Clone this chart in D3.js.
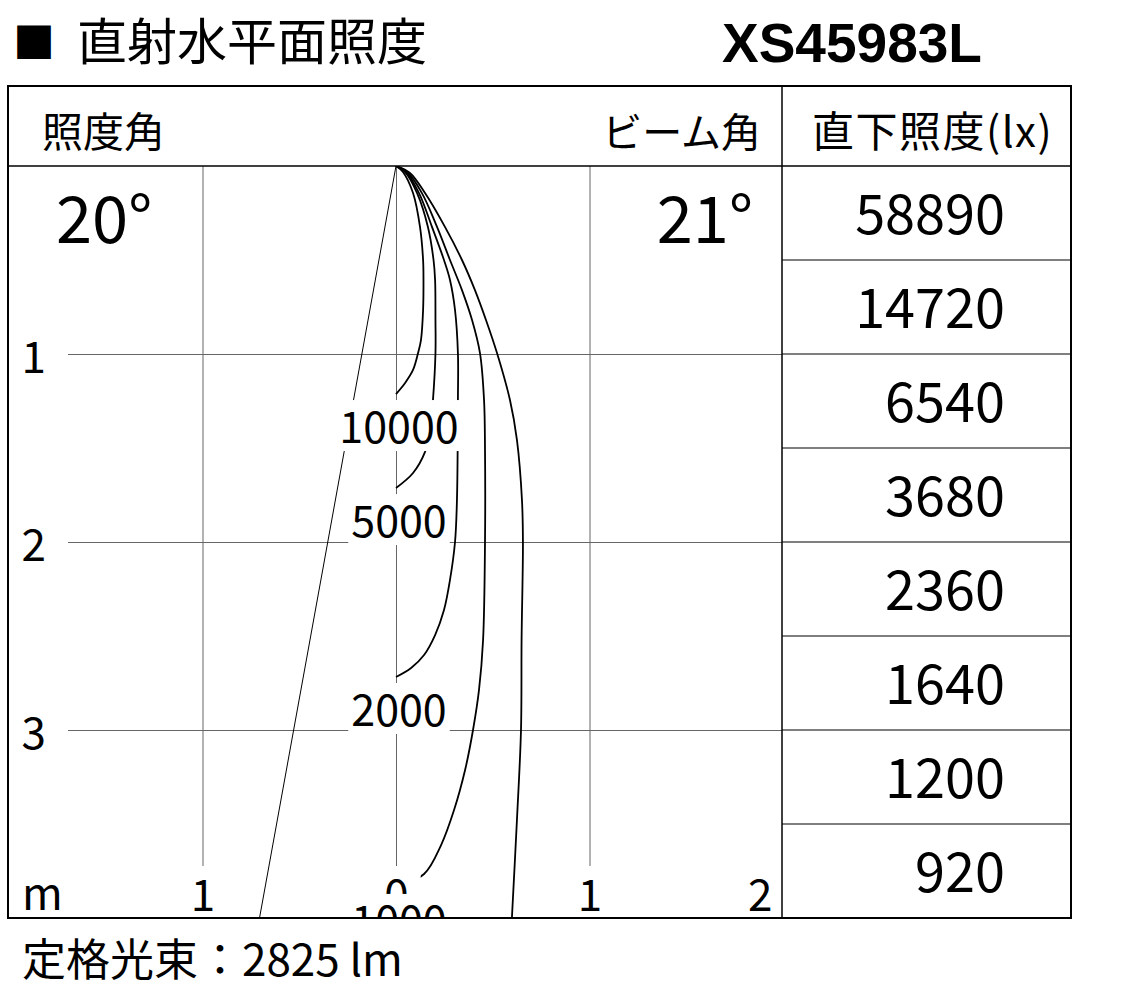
<!DOCTYPE html>
<html><head><meta charset="utf-8">
<script src="https://cdn.jsdelivr.net/npm/d3@7"></script>
<style>
body{margin:0;background:#fff;}
svg{display:block;}
text{font-family:"Noto Sans CJK JP","Noto Sans",sans-serif;fill:#000;}
</style>
</head><body>
<svg id="c" width="1122" height="999"></svg>
<script>
// ---------- data ----------
const titleMark = "■";
const titleText = "直射水平面照度";
const modelName = "XS45983L";
const illumAngleLabel = "照度角";
const beamAngleLabel = "ビーム角";
const tableHeader = "直下照度(lx)";
const illumAngle = 20;   // degrees
const beamAngle = 21;    // degrees
const directValues = [58890, 14720, 6540, 3680, 2360, 1640, 1200, 920];
const depthTicks = [1, 2, 3];
const widthTicks = [-1, 0, 1, 2];
const unitLabel = "m";
const fluxLabel = "定格光束：2825 lm";
const contourLevels = [10000, 5000, 2000, 1000, 500];
// contour points: [horizontal distance (m), depth (m)]
const contour10000 = [[0,0],[0.036,0.032],[0.088,0.144],[0.124,0.324],[0.140,0.500],[0.142,0.606],[0.140,0.766],[0.129,0.926],[0.114,0.995],[0.088,1.085],[0.047,1.154],[0,1.213]];
const contour5000 = [[0,0],[0.047,0.032],[0.109,0.144],[0.165,0.324],[0.194,0.500],[0.202,0.606],[0.204,0.819],[0.204,0.995],[0.191,1.245],[0.176,1.404],[0.150,1.521],[0.088,1.633],[0,1.713]];
const contour2000 = [[0,0],[0.052,0.032],[0.119,0.144],[0.186,0.324],[0.248,0.500],[0.279,0.606],[0.305,0.766],[0.320,0.995],[0.320,1.245],[0.315,1.777],[0.305,2.000],[0.279,2.202],[0.248,2.362],[0.202,2.495],[0.145,2.601],[0.078,2.670],[0,2.718]];
const contour1000 = [[0,0],[0.057,0.032],[0.134,0.144],[0.212,0.324],[0.279,0.500],[0.341,0.660],[0.393,0.819],[0.434,0.995],[0.455,1.245],[0.460,1.511],[0.460,2.000],[0.450,2.521],[0.429,2.787],[0.398,3.000],[0.357,3.213],[0.300,3.426],[0.233,3.612],[0.145,3.766],[0,3.840]];
const contour500 = [[0,0],[0.072,0.037],[0.150,0.144],[0.253,0.324],[0.341,0.500],[0.408,0.660],[0.465,0.819],[0.522,0.995],[0.589,1.245],[0.625,1.457],[0.651,1.777],[0.656,2.000],[0.649,2.521],[0.646,3.000],[0.625,3.479],[0.599,4.000]];
const contours = [contour10000, contour5000, contour2000, contour1000, contour500];

// ---------- layout ----------
const L = 8, R = 1071, T = 86, B = 918, HB = 166, CX = 782;
const svg = d3.select("#c");
const x = d3.scaleLinear().domain([-2, 2]).range([9, 783]);
const y = d3.scaleLinear().domain([0, 4]).range([HB, B]);
const rows = d3.scaleBand().domain(d3.range(directValues.length)).range([HB, B]);

// title
svg.append("text").attr("x", 13).attr("y", 58).attr("font-size", 42).text(titleMark);
svg.append("text").attr("x", 77).attr("y", 60).attr("font-size", 50).text(titleText);
svg.append("text").attr("x", 722).attr("y", 62).attr("font-size", 55)
  .attr("font-weight", "bold").style("font-family", "'Liberation Sans',Arial,sans-serif").text(modelName);

// clip
svg.append("defs").append("clipPath").attr("id", "clip")
  .append("rect").attr("x", L).attr("y", HB).attr("width", CX - L).attr("height", B - HB);

const plot = svg.append("g").attr("clip-path", "url(#clip)");

// grid via axes
const gy = plot.append("g").attr("transform", "translate(68,0)")
  .call(d3.axisLeft(y).tickValues(depthTicks).tickSize(-(CX - 68)).tickFormat(""));
gy.select(".domain").remove();
gy.selectAll("line").attr("stroke", "#666").attr("stroke-width", 1);

const gx = plot.append("g").attr("transform", "translate(0,866)")
  .call(d3.axisBottom(x).tickValues(widthTicks.filter(d => d < 2)).tickSize(-(866 - HB)).tickFormat(""));
gx.select(".domain").remove();
gx.selectAll("line").attr("stroke", "#666").attr("stroke-width", 1);

// illuminance-angle line
const half = illumAngle / 2 * Math.PI / 180;
plot.append("line")
  .attr("x1", x(0)).attr("y1", y(0))
  .attr("x2", x(-4 * Math.tan(half))).attr("y2", y(4))
  .attr("stroke", "#000").attr("stroke-width", 1);

// contours
const line = d3.line().x(d => x(d[0])).y(d => y(d[1])).curve(d3.curveCatmullRom.alpha(0.5));
plot.selectAll("path.contour").data(contours).join("path")
  .attr("class", "contour").attr("d", line)
  .attr("fill", "none").attr("stroke", "#000").attr("stroke-width", 1.8);

// x tick labels
const xl = plot.append("g").attr("transform", "translate(0,866)")
  .call(d3.axisBottom(x).tickValues(widthTicks).tickSize(0).tickFormat(d => Math.abs(d)));
xl.select(".domain").remove();
xl.selectAll(".tick text").attr("font-size", 44).attr("y", 0).attr("dy", 45)
  .style("font-family", "'Noto Sans CJK JP',sans-serif")
  .attr("fill", "#000");
xl.selectAll(".tick").filter(d => d === 2).select("text").attr("text-anchor", "end").attr("x", -11);
xl.selectAll(".tick").filter(d => d === 0).each(function() {
  const t = d3.select(this).select("text");
  const w = t.node().getComputedTextLength();
  d3.select(this).insert("rect", "text").attr("x", -w / 2 - 12).attr("y", 3)
    .attr("width", w + 24).attr("height", 60).attr("fill", "#fff");
});

// contour labels
contours.forEach((c, i) => {
  const end = c[c.length - 1];
  if (end[1] >= 4) return;
  const bx = x(0) + 3, by = y(end[1]) + 49;
  const g = plot.append("g");
  const t = g.append("text").attr("x", bx).attr("y", by).attr("text-anchor", "middle")
    .attr("font-size", 43).text(contourLevels[i]);
  const w = t.node().getComputedTextLength();
  g.insert("rect", "text").attr("x", bx - w / 2 - 3).attr("y", by - 43)
    .attr("width", w + 6).attr("height", 51).attr("fill", "#fff");
});

// y tick labels
svg.append("g").selectAll("text").data(depthTicks).join("text")
  .attr("x", 46).attr("y", d => y(d) + 19).attr("text-anchor", "end")
  .attr("font-size", 44).text(d => d);
svg.append("text").attr("x", 22).attr("y", 910).attr("font-size", 44).text(unitLabel);

// header
svg.append("text").attr("x", 42).attr("y", 147).attr("font-size", 41).text(illumAngleLabel);
svg.append("text").attr("x", 761).attr("y", 147).attr("text-anchor", "end").attr("font-size", 40).text(beamAngleLabel);
svg.append("text").attr("x", 812).attr("y", 147).attr("font-size", 42).attr("letter-spacing", 1.5).text(tableHeader);

// angle values
svg.append("text").attr("x", 56).attr("y", 243).attr("font-size", 65).text(illumAngle + "°");
svg.append("text").attr("x", 753).attr("y", 243).attr("text-anchor", "end").attr("font-size", 65).text(beamAngle + "°");

// table
const tbl = svg.append("g");
tbl.selectAll("line").data(d3.range(1, directValues.length)).join("line")
  .attr("x1", CX).attr("x2", R).attr("y1", d => rows(d)).attr("y2", d => rows(d))
  .attr("stroke", "#000").attr("stroke-width", 1.2);
tbl.selectAll("text").data(directValues).join("text")
  .attr("x", 1005).attr("y", (d, i) => rows(i) + rows.bandwidth() / 2 + 21)
  .attr("text-anchor", "end").attr("font-size", 54).text(d => d);

// frame
svg.append("rect").attr("x", L).attr("y", T).attr("width", R - L).attr("height", B - T)
  .attr("fill", "none").attr("stroke", "#000").attr("stroke-width", 2);
svg.append("line").attr("x1", L).attr("x2", R).attr("y1", HB).attr("y2", HB).attr("stroke", "#000").attr("stroke-width", 1.5);
svg.append("line").attr("x1", CX).attr("x2", CX).attr("y1", T).attr("y2", B).attr("stroke", "#000").attr("stroke-width", 1.5);

// footer
svg.append("text").attr("x", 22).attr("y", 976).attr("font-size", 44).text(fluxLabel);
</script>
</body></html>
